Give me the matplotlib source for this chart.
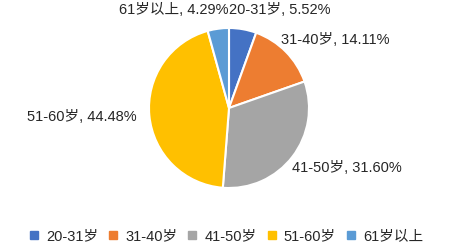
import matplotlib
matplotlib.use("Agg")
import matplotlib.pyplot as plt
from matplotlib.lines import Line2D

plt.rcParams['font.family'] = ['Liberation Sans', 'Noto Sans CJK SC', 'DejaVu Sans']

categories = ["20-31岁", "31-40岁", "41-50岁", "51-60岁", "61岁以上"]
values = [5.52, 14.11, 31.60, 44.48, 4.29]
colors = ["#4472C4", "#ED7D31", "#A5A5A5", "#FFC000", "#5B9BD5"]

fig = plt.figure(figsize=(4.53, 2.48), dpi=100)
ax = fig.add_axes([(229 - 80) / 453, 1 - 188 / 248, 160 / 453, 160 / 248])
ax.pie(values, colors=colors, startangle=90, counterclock=False,
       wedgeprops=dict(edgecolor="white", linewidth=1.5))
ax.set_xlim(-1, 1)
ax.set_ylim(-1, 1)
ax.set_aspect('auto')
ax.axis('off')

fs = 10.5
tc = "#262626"
label_pos = [(0.0, 1.22, 'left'), (0.65, 0.85, 'left'), (0.79, -0.75, 'left'),
             (-1.16, -0.11, 'right'), (-0.01, 1.22, 'right')]
for cat, v, (x, y, ha) in zip(categories, values, label_pos):
    ax.text(x, y, f"{cat}, {v:.2f}%", ha=ha, va='center', fontsize=fs, color=tc,
            clip_on=False)

handles = [Line2D([], [], marker='s', linestyle='none', markersize=5.5,
                  markerfacecolor=c, markeredgecolor=c) for c in colors]
fig.legend(handles, categories, loc='center', bbox_to_anchor=(0.5, 1 - 236 / 248),
           ncol=5, frameon=False, fontsize=fs, handlelength=0.6, handletextpad=0.55,
           columnspacing=0.7, labelcolor=tc)

fig.savefig("out.png", dpi=100)
